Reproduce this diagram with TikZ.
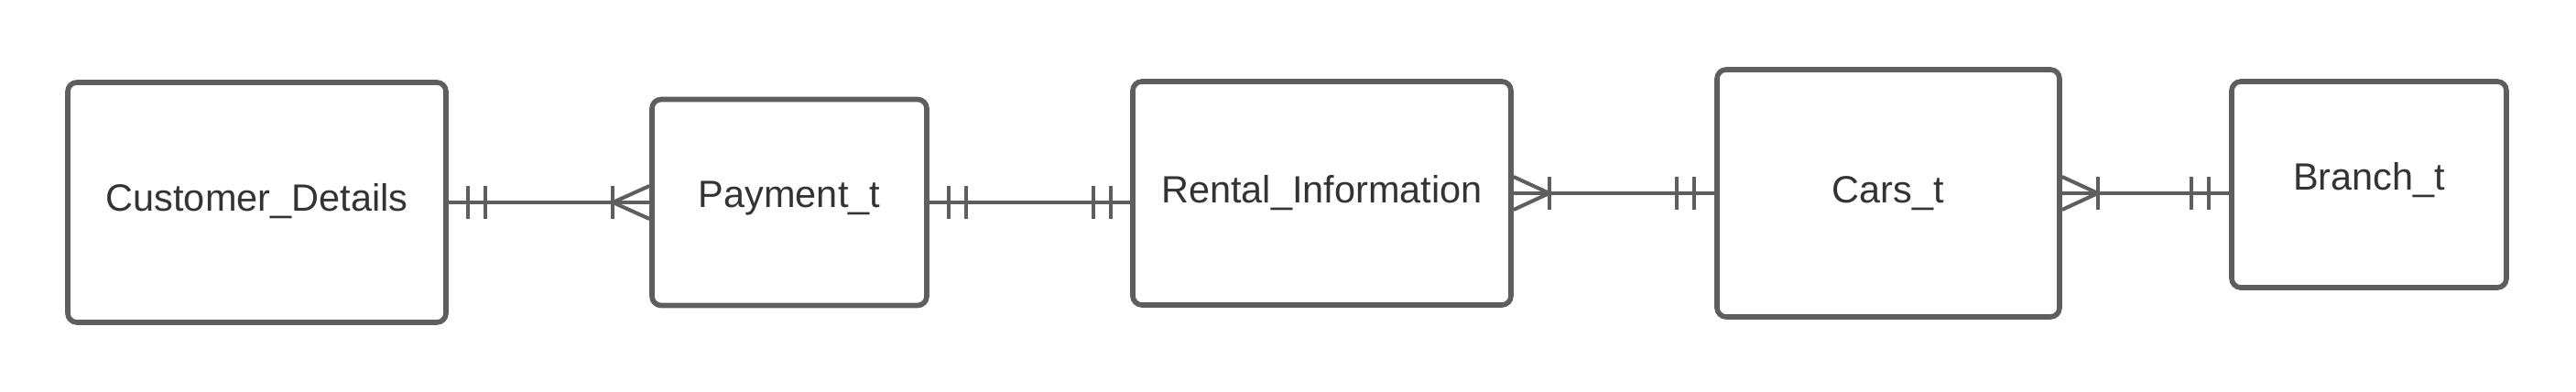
\documentclass[tikz,border=0pt]{standalone}
\usepackage{fontspec}
\setmainfont{Liberation Sans}
\definecolor{erline}{HTML}{5E5E5E}
\definecolor{ertext}{HTML}{333333}
\tikzset{
  entity/.style={draw=erline, line width=1.6pt, rounded corners=1mm, text=ertext, font=\fontsize{11.8}{14}\selectfont},
  rel/.style={draw=erline, line width=1.15pt}
}

\begin{document}
\begin{tikzpicture}
  \useasboundingbox (0,0) rectangle (28.13,-4.28);
  \node [entity, minimum width=4.13cm, minimum height=2.62cm, text depth=0.12cm] (cust) at (2.805,-2.21) {Customer\_Details};
  \node [entity, minimum width=3.00cm, minimum height=2.25cm, text depth=0.17cm] (pay) at (8.62,-2.21) {Payment\_t};
  \node [entity, minimum width=4.13cm, minimum height=2.44cm] (rent) at (14.435,-2.11) {Rental\_Information};
  \node [entity, minimum width=3.74cm, minimum height=2.70cm] (cars) at (20.62,-2.11) {Cars\_t};
  \node [entity, minimum width=3.00cm, minimum height=2.25cm, text depth=0.19cm] (branch) at (25.87,-2.015) {Branch\_t};

  \coordinate (payrent) at (pay.east -| rent.west);
  \coordinate (rentcars) at (rent.east -| cars.west);
  \coordinate (carsbranch) at (cars.east -| branch.west);

  % customer - payment
  \draw [rel] (cust.east) -- (pay.west);
  \draw [rel] ([xshift=0.21cm]cust.east) ++(0,0.18) -- ++(0,-0.36);
  \draw [rel] ([xshift=0.40cm]cust.east) ++(0,0.18) -- ++(0,-0.36);
  \draw [rel] ([xshift=-0.40cm]pay.west) ++(0,0.18) -- ++(0,-0.36);
  \draw [rel] ([yshift=0.18cm]pay.west) -- ([xshift=-0.40cm]pay.west) -- ([yshift=-0.18cm]pay.west);

  % payment - rental
  \draw [rel] (pay.east) -- (payrent);
  \draw [rel] ([xshift=0.21cm]pay.east) ++(0,0.18) -- ++(0,-0.36);
  \draw [rel] ([xshift=0.40cm]pay.east) ++(0,0.18) -- ++(0,-0.36);
  \draw [rel] ([xshift=-0.21cm]payrent) ++(0,0.18) -- ++(0,-0.36);
  \draw [rel] ([xshift=-0.40cm]payrent) ++(0,0.18) -- ++(0,-0.36);

  % rental - cars
  \draw [rel] (rent.east) -- (rentcars);
  \draw [rel] ([yshift=0.18cm]rent.east) -- ([xshift=0.39cm]rent.east) -- ([yshift=-0.18cm]rent.east);
  \draw [rel] ([xshift=0.39cm]rent.east) ++(0,0.18) -- ++(0,-0.36);
  \draw [rel] ([xshift=-0.22cm]rentcars) ++(0,0.18) -- ++(0,-0.36);
  \draw [rel] ([xshift=-0.41cm]rentcars) ++(0,0.18) -- ++(0,-0.36);

  % cars - branch
  \draw [rel] (cars.east) -- (carsbranch);
  \draw [rel] ([yshift=0.18cm]cars.east) -- ([xshift=0.39cm]cars.east) -- ([yshift=-0.18cm]cars.east);
  \draw [rel] ([xshift=0.39cm]cars.east) ++(0,0.18) -- ++(0,-0.36);
  \draw [rel] ([xshift=-0.22cm]carsbranch) ++(0,0.18) -- ++(0,-0.36);
  \draw [rel] ([xshift=-0.41cm]carsbranch) ++(0,0.18) -- ++(0,-0.36);
\end{tikzpicture}
\end{document}
